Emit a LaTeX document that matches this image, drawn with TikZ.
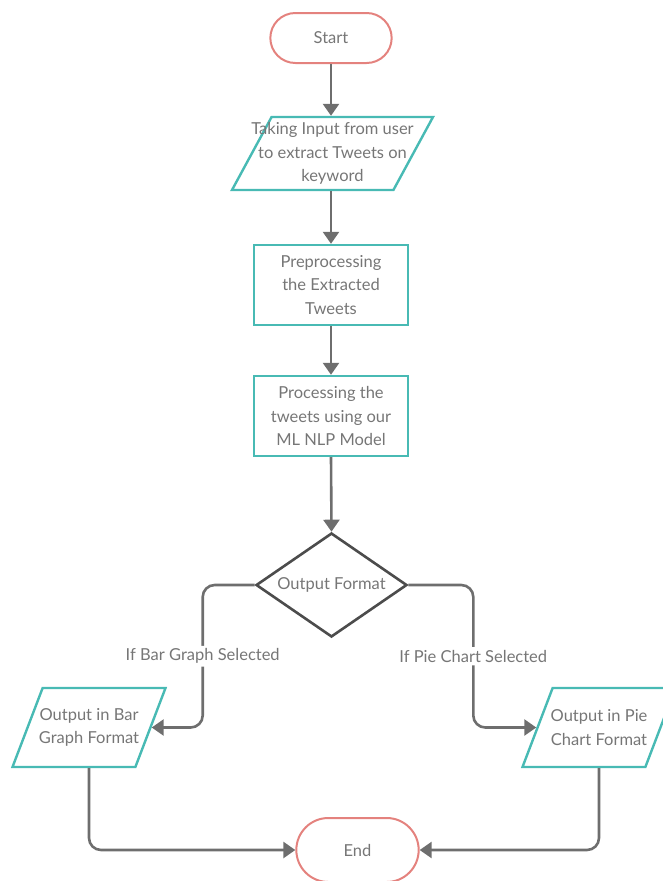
\documentclass[tikz,border=0pt]{standalone}
\usepackage{fontspec}
\setmainfont{Lato}
\usetikzlibrary{shapes.geometric,shapes.misc,arrows.meta}
\definecolor{tealline}{RGB}{72,186,180}
\definecolor{redline}{RGB}{228,130,126}
\definecolor{flowgray}{RGB}{110,110,110}
\definecolor{txtgray}{RGB}{118,118,118}

\begin{document}
\begin{tikzpicture}[x=1pt,y=-1pt,
        every node/.style={font=\fontsize{16.5}{23.5}\selectfont, text=txtgray},
        termnode/.style={rounded rectangle, draw=redline, line width=2pt, minimum width=128pt, minimum height=50pt},
        ionode/.style={trapezium, trapezium left angle=72, trapezium right angle=108, trapezium stretches=true, draw=tealline, line width=2.4pt, inner sep=2pt, minimum width=153pt, minimum height=79pt},
        procnode/.style={rectangle, draw=tealline, line width=2.4pt, minimum width=154pt, minimum height=80pt, align=center},
        decnode/.style={diamond, draw=black!70, line width=2.6pt, inner sep=2pt, minimum width=151pt, minimum height=104pt},
        inlabel/.style={align=center},
        flow/.style={draw=flowgray, line width=2.6pt, -{Triangle[width=16pt,length=12pt]}},
        choice/.style={fill=white, inner sep=3pt},
        ]
        \useasboundingbox (0,0) rectangle (663,881);
        \clip (0,0) rectangle (663,881);

        % Nodes
        \node[termnode] (start) at (331,38) {Start};
        \node[ionode, minimum width=201pt, minimum height=73pt,
              label={[inlabel]center:Taking Input from user\\to extract Tweets on\\keyword}] (inp) at (332.5,153.5) {};
        \node[procnode] (pre) at (331,285) {Preprocessing\\the Extracted\\Tweets};
        \node[procnode] (proc) at (331,416) {Processing the\\tweets using our\\ML NLP Model};
        \node[decnode, label={[inlabel]center:Output Format}] (fmt) at (331.5,585) {};

        % Outputs
        \node[ionode, label={[inlabel]center:Output in Bar\\Graph Format}] (bar) at (89,727.5) {};
        \node[ionode, label={[inlabel]center:Output in Pie\\Chart Format}] (pie) at (599,727.5) {};
        \node[termnode, minimum width=129pt, minimum height=64pt] (end) at (357.5,850) {End};

        % Main flow
        \draw[flow] (start.south) -- (start.south |- inp.north);
        \draw[flow] (pre.north |- inp.south) -- (pre.north);
        \draw[flow] (pre.south) -- (proc.north);
        \draw[flow] (proc.south) -- (fmt.north);

        % Branches
        \draw[flow, rounded corners=12pt] (fmt.west) -- ++(-52,0) |- node[choice, pos=0.25] {If Bar Graph Selected} (bar.east);
        \draw[flow, rounded corners=12pt] (fmt.east) -- ++(65,0) |- node[choice, pos=0.25] {If Pie Chart Selected} (pie.west);

        % To the end
        \draw[flow, rounded corners=12pt] (bar.center |- bar.south) |- (end.west);
        \draw[flow, rounded corners=12pt] (pie.center |- pie.south) |- (end.east);

    \end{tikzpicture}
\end{document}
